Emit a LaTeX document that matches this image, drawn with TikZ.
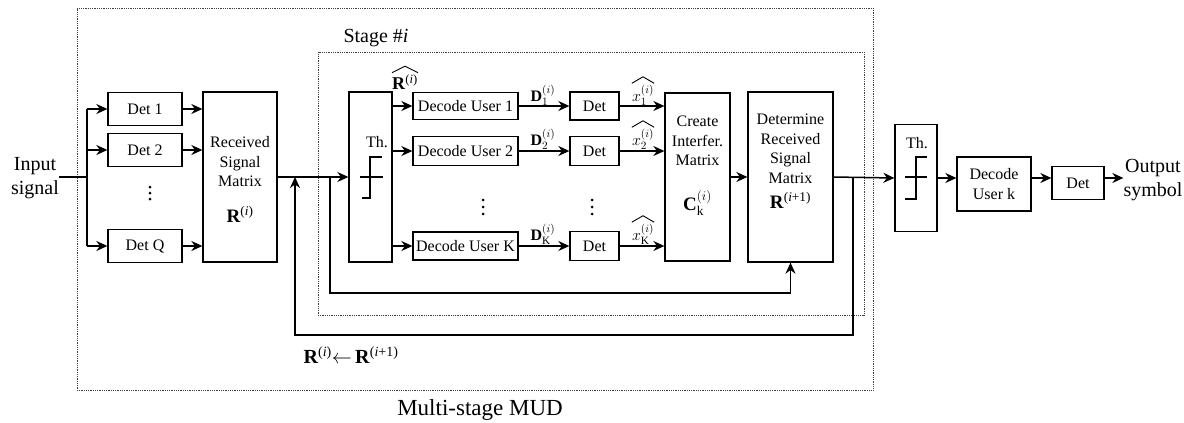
\RequirePackage{fix-cm}
\documentclass[tikz,border=0pt]{standalone}
\usepackage{fontspec}
\setmainfont{Liberation Serif}
\usetikzlibrary{arrows.meta}
\begin{document}
\begin{tikzpicture}[x=1pt,y=-1pt,
  box/.style={draw,line width=1.3pt,inner sep=0pt,font=\fontsize{16}{19.5}\selectfont,align=center},
  con/.style={line width=1.5pt},
  arr/.style={con,-{Stealth[length=11pt,width=10pt]}},
  dotbox/.style={draw,line width=0.8pt,densely dotted,black!75,inner sep=0pt},
  bt/.style={font=\fontsize{16}{19.5}\selectfont,align=center,inner sep=0pt},
  big/.style={font=\fontsize{20}{24}\selectfont,align=center,inner sep=0pt},
  lab/.style={font=\fontsize{16}{18}\selectfont,inner sep=0pt},
  hatline/.style={line width=0.9pt},
  stepsym/.style={line width=1.2pt},
  vdot/.style={fill,circle,inner sep=0pt,minimum size=3pt},
]
\useasboundingbox (0,0) rectangle (1184,423);
% dotted frames
\node[dotbox,minimum width=796pt,minimum height=382pt] (mud) at (475,199) {};
\node[dotbox,minimum width=546pt,minimum height=263pt] (stage) at (591,183.5) {};
\node[big] (stagelab) at (376,38) {Stage \#\textit{i}};
\node[font=\fontsize{23}{26}\selectfont,inner sep=0pt] (mudlab) at (480,410) {Multi-stage MUD};
% input
\node[big] (in) at (35,178) {Input\\signal};
\coordinate (sp) at (87,177);
\node[box,minimum width=74pt,minimum height=33pt] (d1) at (145,109) {Det 1};
\node[box,minimum width=74pt,minimum height=33pt] (d2) at (145,150) {Det 2};
\foreach \yy [count=\k] in {187,193,199}{\node[vdot] (va\k) at (150,\yy) {};}
\node[box,minimum width=74pt,minimum height=33pt] (dq) at (145,246) {Det Q};
\node[box,minimum width=74pt,minimum height=170pt] (rsm) at (240,177) {};
\node[bt] (rsmtxt) at (240,162) {Received\\Signal\\Matrix};
\node[font=\fontsize{19}{22}\selectfont,inner sep=0pt] (rsmR) at (240,214) {\textbf{R}\textsuperscript{(\textit{i})}};
% stage
\node[box,minimum width=43pt,minimum height=170pt] (th1) at (370.5,177) {};
\node[bt] (th1t) at (377,142) {Th.};
\node[box,minimum width=105pt,minimum height=27pt] (dec1) at (465.5,106) {Decode User 1};
\node[box,minimum width=105pt,minimum height=29pt] (dec2) at (465.5,151) {Decode User 2};
\foreach \yy [count=\k] in {200,207,214}{\node[vdot] (vb\k) at (483,\yy) {};}
\node[box,minimum width=105pt,minimum height=28pt] (deck) at (465.5,246) {Decode User K};
\node[box,minimum width=49pt,minimum height=28pt] (du1) at (594.5,106) {Det};
\node[box,minimum width=49pt,minimum height=29pt] (du2) at (594.5,151) {Det};
\foreach \yy [count=\k] in {200,207,214}{\node[vdot] (vc\k) at (592,\yy) {};}
\node[box,minimum width=49pt,minimum height=29pt] (duk) at (594.5,246) {Det};
\node[box,minimum width=65pt,minimum height=168pt] (cr) at (697.5,177) {};
\node[bt] (crt) at (697.5,141) {Create\\Interfer.\\Matrix};
\node[font=\fontsize{19}{22}\selectfont,inner sep=0pt] (crC) at (697.5,203) {$\mbox{\textbf{C}}_{\mathrm{k}}^{(i)}$};
\node[box,minimum width=85pt,minimum height=170pt] (detm) at (790.5,177) {};
\node[bt] (detmt) at (790.5,149) {Determine\\Received\\Signal\\Matrix};
\node[font=\fontsize{19}{22}\selectfont,inner sep=0pt] (detmR) at (790.5,200) {\textbf{R}\textsuperscript{(\textit{i}+1)}};
% labels
\node[font=\fontsize{18}{20}\selectfont,inner sep=0pt] (rhat) at (405,82) {\textbf{R}\textsuperscript{(\textit{i})}};
\node[lab] (l1) at (543,95) {$\mbox{\textbf{D}}_1^{(i)}$};
\node[lab] (l2) at (543,139) {$\mbox{\textbf{D}}_2^{(i)}$};
\node[lab] (lk) at (543,234) {$\mbox{\textbf{D}}_{\mathrm{K}}^{(i)}$};
\node[lab] (x1) at (643,95) {$x_1^{(i)}$};
\node[lab] (x2) at (643,139) {$x_2^{(i)}$};
\node[lab] (xk) at (643,234) {$x_{\mathrm{K}}^{(i)}$};
\foreach \n in {rhat,x1,x2,xk}{
  \draw[hatline] ([yshift=1.5pt]\n.north west) -- ([yshift=8pt]\n.north) -- ([yshift=1.5pt]\n.north east);
}
\node[font=\fontsize{20}{22}\selectfont,inner sep=0pt] (upd) at (351,355) {\textbf{R}\textsuperscript{(\textit{i})}$\leftarrow$\,\textbf{R}\textsuperscript{(\textit{i}+1)}};
% output part
\node[box,minimum width=42pt,minimum height=107pt] (th2) at (916,178) {};
\node[bt] (th2t) at (917,143) {Th.};
\node[box,minimum width=74pt,minimum height=54pt] (dk) at (994,184) {Decode\\User k};
\node[box,minimum width=52pt,minimum height=33pt] (detf) at (1078,183) {Det};
\node[big] (out) at (1153,180) {Output\\symbol};
% threshold symbols
\draw[stepsym] (360,177) -- (383,177);
\draw[stepsym] (362,198) -- (370,198) -- (370,157) -- (382,157);
\draw[stepsym] (905,177) -- (927,177);
\draw[stepsym] (905,199) -- (916,199) -- (916,157) -- (927,157);
% connectors
\draw[con] (sp -| in.east) -- (sp);
\draw[con] (sp |- d1) -- (sp |- dq);
\foreach \n in {d1,d2,dq}{
  \draw[arr] (sp |- \n) -- (\n.west);
  \draw[arr] (\n.east) -- (\n.east -| rsm.west);
}
\draw[arr] (rsm.east) -- (th1.west);
\foreach \a/\b in {dec1/du1,dec2/du2,deck/duk}{
  \draw[arr] (th1.east |- \a) -- (\a.west);
  \draw[arr] (\a.east) -- (\b.west);
  \draw[arr] (\b.east) -- (\b.east -| cr.west);
}
\draw[arr] (cr.east) -- (detm.west);
\draw[arr] (detm.east) -- (th2.west);
\coordinate (o1) at (853,177);
\coordinate (ob) at (295,335);
\draw[arr] (o1) |- (ob) -- (ob |- rsm.east);
\coordinate (i1) at (330,177);
\coordinate (ib) at (330,293);
\draw[arr] (i1) -- (ib) -| (detm.south);
\draw[arr] (th2.east) -- (th2.east -| dk.west);
\draw[arr] (th2.east -| dk.east) -- (th2.east -| detf.west);
\draw[arr] (th2.east -| detf.east) -- (th2.east -| out.west);
\end{tikzpicture}
\end{document}
